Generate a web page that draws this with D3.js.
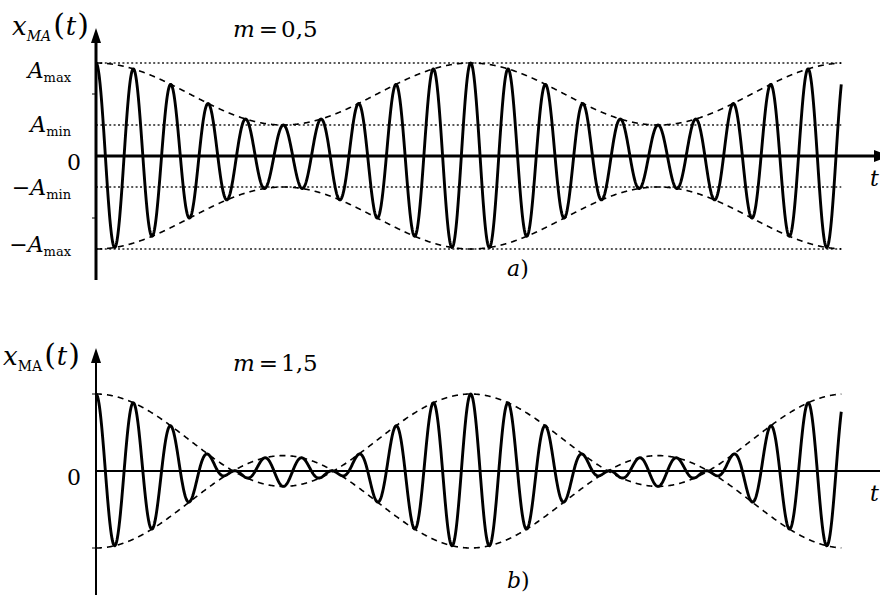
<!DOCTYPE html>
<meta charset="utf-8">
<style>
body { margin: 0; background: #fff; }
.sig { fill: none; stroke: #000; stroke-width: 2.9px; stroke-linejoin: round; }
.env { fill: none; stroke: #000; stroke-width: 1.6px; stroke-dasharray: 6,5; }
.lvl { fill: none; stroke: #222; stroke-width: 1.5px; stroke-dasharray: 2,2.4; }
</style>
<svg width="880" height="603"></svg>
<script src="https://d3js.org/d3.v7.min.js"></script>
<script>

// chart values
var panelLetters = ["a", "b"];
var modIndex = [0.5, 1.5];
var modLabels = ["0,5", "1,5"];
var carrierCycles = 19.89;          // carrier periods shown
var carriersPerModulation = 10;     // carrier periods in one modulation period
var levelValues = [1.5, 0.5, -0.5, -1.5];
var tickValues = [1.5, 0.5, 0, -0.5, -1.5];
var tickLabels = [["", "A", "max"], ["", "A", "min"], ["", "0", ""], ["\u2212", "A", "min"], ["\u2212", "A", "max"]];
var tickValuesB = [0];
var tickLabelsB = [["", "0", ""]];
var minorTicksA = [1, -1];
var minorTicksB = [2.5, -2.5];

var serif = "DejaVu Serif";
var svg = d3.select("svg");

var x = d3.scaleLinear().domain([0, 20]).range([96, 96 + 20 * 37.47]);

var panels = [
  {zero: 156, amp: 62, top: 28, bottom: 280, axisW: 3, xAxisW: 3, mathY: 35, subItalic: true, mY: 37, letterY: 276},
  {zero: 471, amp: 30.8, top: 348, bottom: 595, axisW: 2, xAxisW: 2, mathY: 365, subItalic: false, mY: 371, letterY: 588}
];

function env(m, t) { return 1 + m * Math.cos(2 * Math.PI * t / carriersPerModulation); }

panels.forEach(function(p, i) {
  var m = modIndex[i];
  var peak = 1 + m;
  var y = d3.scaleLinear().domain([-peak, peak]).range([p.zero + peak * p.amp, p.zero - peak * p.amp]);
  var g = svg.append("g");

  var ts = d3.range(0, carrierCycles, 0.01).concat([carrierCycles]);

  // dotted level lines (panel a only)
  if (i === 0) {
    g.selectAll(".lvl").data(levelValues).enter().append("line")
      .attr("class", "lvl")
      .attr("x1", x(0)).attr("x2", x(carrierCycles))
      .attr("y1", function(d) { return y(d); }).attr("y2", function(d) { return y(d); });
  }

  // axes
  g.append("line").attr("x1", x(0)).attr("x2", 884).attr("y1", y(0)).attr("y2", y(0))
    .attr("stroke", "#000").attr("stroke-width", p.xAxisW);
  if (i === 0) {
    g.append("path").attr("d", "M874," + (y(0) - 6) + "L890," + y(0) + "L874," + (y(0) + 6) + "Z").attr("fill", "#000");
  }
  g.append("line").attr("x1", x(0)).attr("x2", x(0)).attr("y1", p.top + 10).attr("y2", p.bottom)
    .attr("stroke", "#000").attr("stroke-width", p.axisW);
  g.append("path").attr("d", "M" + (x(0) - 5) + "," + (p.top + 15) + "L" + x(0) + "," + p.top + "L" + (x(0) + 5) + "," + (p.top + 15) + "Z")
    .attr("fill", "#000");

  g.selectAll(".mt").data(i === 0 ? minorTicksA : minorTicksB).enter().append("line")
    .attr("x1", x(0) - 4).attr("x2", x(0))
    .attr("y1", function(d) { return y(d); }).attr("y2", function(d) { return y(d); })
    .attr("stroke", "#000").attr("stroke-width", 1);

  // envelopes
  [1, -1].forEach(function(s) {
    g.append("path").datum(ts).attr("class", "env")
      .attr("d", d3.line().x(function(t) { return x(t); }).y(function(t) { return y(s * env(m, t)); }));
  });

  // modulated signal
  g.append("path").datum(ts).attr("class", "sig")
    .attr("d", d3.line().x(function(t) { return x(t); })
      .y(function(t) { return y(env(m, t) * Math.cos(2 * Math.PI * t)); }));

  // tick labels
  var tv = i === 0 ? tickValues : tickValuesB;
  var tl = i === 0 ? tickLabels : tickLabelsB;
  var dys = i === 0 ? [15, 7, 14, 8, 3] : [14];
  tv.forEach(function(v, k) {
    var lab = tl[k];
    var txt = g.append("text").attr("text-anchor", "end").attr("font-family", serif)
      .attr("x", lab[2] ? 71 : 81).attr("y", y(v) + dys[k]).attr("font-size", 22);
    if (lab[0]) txt.append("tspan").text(lab[0]);
    txt.append("tspan").attr("font-style", lab[2] ? "italic" : "normal").text(lab[1]);
    if (lab[2]) txt.append("tspan").attr("dy", 4).attr("font-size", 13).text(lab[2]);
  });

  // y label x_MA(t)
  var yl = g.append("text").attr("x", i === 0 ? 12 : 3).attr("y", p.mathY)
    .attr("font-family", serif).attr("font-size", 26);
  yl.append("tspan").attr("font-style", "italic").text("x");
  yl.append("tspan").attr("dy", 6).attr("font-size", 14).attr("font-style", p.subItalic ? "italic" : "normal").text("MA");
  yl.append("tspan").attr("dy", -6).attr("dx", 2).attr("font-size", 30).text("(");
  yl.append("tspan").attr("dx", 1).attr("font-style", "italic").text("t");
  yl.append("tspan").attr("dx", 1).attr("font-size", 30).text(")");

  // modulation index
  var ml = g.append("text").attr("x", 233).attr("y", p.mY).attr("font-family", serif).attr("font-size", 23);
  ml.append("tspan").attr("font-style", "italic").text("m");
  ml.append("tspan").attr("dx", 4).text("=");
  ml.append("tspan").attr("dx", 3).text(modLabels[i]);

  // t label (cut at edge)
  g.append("text").attr("x", 870).attr("y", y(0) + 30).attr("font-family", serif)
    .attr("font-size", 22).attr("font-style", "italic").text("t");

  // panel letter
  var pl = g.append("text").attr("x", 507).attr("y", p.letterY).attr("font-family", serif).attr("font-size", 22);
  pl.append("tspan").attr("font-style", "italic").text(panelLetters[i]);
  pl.append("tspan").text(")");
});

</script>
